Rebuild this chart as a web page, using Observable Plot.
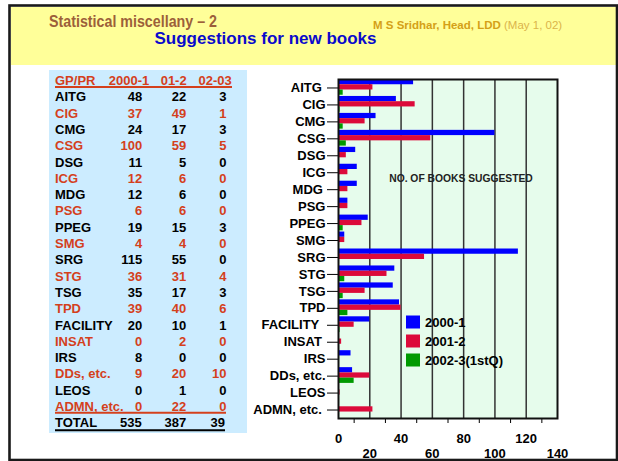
<!DOCTYPE html>
<html><head><meta charset="utf-8">
<script src="https://cdn.jsdelivr.net/npm/d3@7"></script>
<script src="https://cdn.jsdelivr.net/npm/@observablehq/plot@0.6"></script>
<style>
html,body{margin:0;padding:0;background:#fff;}
#page{position:relative;width:618px;height:461px;overflow:hidden;font-family:"Liberation Sans",Arial,sans-serif;}
#bg{position:absolute;left:0;top:0;}
#chart{position:absolute;left:240px;top:70px;}
#legend{position:absolute;left:0;top:0;pointer-events:none;}
</style></head>
<body>
<div id="page">
  <svg id="bg" width="618" height="461"></svg>
  <div id="chart"></div>
  <svg id="legend" width="618" height="461"></svg>
</div>
<script>
// ---- data ----
const categories = ["AITG","CIG","CMG","CSG","DSG","ICG","MDG","PSG","PPEG","SMG","SRG","STG","TSG","TPD","FACILITY","INSAT","IRS","DDs, etc.","LEOS","ADMN, etc."];
const yTickLabels = ["AITG\u00a0","CIG","CMG","CSG","DSG","ICG","MDG\u2009","PSG","PPEG","SMG","SRG","STG","TSG","TPD","FACILITY\u00a0\u2009","INSAT\u00a0","IRS","DDs, etc.","LEOS","ADMN, etc.\u00a0"];
const values2000_1 = [48,37,24,100,11,12,12,6,19,4,115,36,35,39,20,0,8,9,0,0];
const values2001_2 = [22,49,17,59,5,6,6,6,15,4,55,31,17,40,10,2,0,20,1,22];
const values2002_3 = [3,1,3,5,0,0,0,0,3,0,0,4,3,6,1,0,0,10,0,0];
const seriesNames = ["2000-1","2001-2","2002-3(1stQ)"];
const seriesColors = ["#0000ff","#dc0a3a","#009a00"];
const tableHeads = ["GP/PR","2000-1","01-2","02-03"];
const totalLabel = "TOTAL";
const xGridValues = [20,40,60,80,100,120];
const xMinorTicks = [10,30,50,70,90,110,130];
const xLabelsRow1 = [0,40,80,120];
const xLabelsRow2 = [20,60,100,140];
const axisTitle = "NO. OF BOOKS SUGGESTED";
const title1 = "Statistical miscellany \u2013 2";
const author = "M S Sridhar, Head, LDD";
const dateText = "(May 1, 02)";
const title2 = "Suggestions for new books";

const FONT = '"Liberation Sans", Arial, sans-serif';
const RED = "#d4401c";

// ---- background, header, table ----
const bg = d3.select("#bg");
bg.append("rect").attr("x",11).attr("y",7).attr("width",605).attr("height",58).attr("fill","#ffff99");
bg.append("rect").attr("x",49).attr("y",70).attr("width",198).attr("height",363).attr("fill","#ccecff");
bg.append("rect").attr("x",9.5).attr("y",5.5).attr("width",607.5).attr("height",454.5)
  .attr("fill","none").attr("stroke","#1a1a1a").attr("stroke-width",2.6);

bg.append("text").attr("x",49).attr("y",27.3).attr("font-family",FONT).attr("font-weight","bold")
  .attr("font-size",16.5).attr("fill","#9c5f3a").attr("textLength",168).attr("lengthAdjust","spacingAndGlyphs").text(title1);
const au = bg.append("text").attr("x",373).attr("y",28.7).attr("font-family",FONT).attr("font-size",11.5);
au.append("tspan").attr("font-weight","bold").attr("fill","#d4a017").text(author);
au.append("tspan").attr("font-weight","normal").attr("fill","#dbb44a").text(" " + dateText);
bg.append("text").attr("x",265.5).attr("y",44).attr("text-anchor","middle").attr("font-family",FONT)
  .attr("font-weight","bold").attr("font-size",17).attr("fill","#0a0acc").text(title2);

// table
const rowH = 16.3, base0 = 85.05;
const headX = [55, 149.3, 186.7, 231.7];
const colX = [55, 142.3, 186.3, 226.5];
const tbl = bg.append("g").attr("font-family",FONT).attr("font-weight","bold").attr("font-size",13);
tableHeads.forEach((h,j)=>{
  tbl.append("text").attr("x",headX[j]).attr("y",base0).attr("text-anchor", j===0?"start":"end").attr("fill",RED).text(h);
});
categories.forEach((c,i)=>{
  const col = i%2===0 ? "#000" : RED;
  const y = base0 + (i+1)*rowH;
  const vals = [c, values2000_1[i], values2001_2[i], values2002_3[i]];
  vals.forEach((v,j)=>{
    tbl.append("text").attr("x",colX[j]).attr("y",y).attr("text-anchor", j===0?"start":"end").attr("fill",col).text(v);
  });
});
const totals = [totalLabel, d3.sum(values2000_1), d3.sum(values2001_2), d3.sum(values2002_3)];
const yT = base0 + (categories.length+1)*rowH;
const totX = [55, 141.7, 186.3, 225];
totals.forEach((v,j)=>{
  tbl.append("text").attr("x",totX[j]).attr("y",yT).attr("text-anchor", j===0?"start":"end").attr("fill","#000").text(v);
});
bg.append("line").attr("x1",55).attr("x2",232).attr("y1",86.9).attr("y2",86.9).attr("stroke",RED).attr("stroke-width",2);
bg.append("line").attr("x1",55).attr("x2",226).attr("y1",412.8).attr("y2",412.8).attr("stroke",RED).attr("stroke-width",2);
bg.append("line").attr("x1",55).attr("x2",225).attr("y1",430.2).attr("y2",430.2).attr("stroke","#000").attr("stroke-width",2);

// ---- chart ----
const rows = categories.map((c,i)=>({cat:c, a:values2000_1[i], b:values2001_2[i], c2:values2002_3[i]}));
const frameH = 339, bw = frameH/categories.length, barH = 5.25;
const chart = Plot.plot({
  width: 360, height: 388,
  marginLeft: 98, marginRight: 43, marginTop: 9, marginBottom: 40,
  x: {domain:[0,140], ticks: xMinorTicks, tickSize: 5, tickFormat: () => "", label: null},
  y: {type:"band", domain: categories, padding: 0, round: false, tickSize: 11, tickPadding: 2,
      tickFormat: d => yTickLabels[categories.indexOf(d)], label: null},
  style: {background:"transparent", fontFamily: FONT, fontSize:"13px", fontWeight:"bold", color:"#000", overflow:"visible"},
  marks: [
    Plot.frame({fill:"#e6fcec", stroke:"none"}),
    Plot.ruleX(xGridValues, {stroke:"#333", strokeWidth:1.5}),
    Plot.barX(rows, {x:"a", y:"cat", fill:seriesColors[0], insetTop:0, insetBottom: bw - barH}),
    Plot.barX(rows, {x:"b", y:"cat", fill:seriesColors[1], insetTop:barH, insetBottom: bw - 2*barH}),
    Plot.barX(rows, {x:"c2", y:"cat", fill:seriesColors[2], insetTop:2*barH, insetBottom: bw - 3*barH}),
    Plot.frame({stroke:"#111", strokeWidth:2}),
    Plot.text([axisTitle], {frameAnchor:"top", dx:13, dy:99, lineAnchor:"middle", fontSize:10.3, fill:"#222"}),
    Plot.text(xLabelsRow1, {x: d=>d, text: d=>String(d), frameAnchor:"bottom", dy:20, lineAnchor:"middle"}),
    Plot.text(xLabelsRow2, {x: d=>d, text: d=>String(d), frameAnchor:"bottom", dy:35, lineAnchor:"middle"})
  ]
});
document.getElementById("chart").appendChild(chart);

// ---- legend ----
const lg = d3.select("#legend").append("g").attr("font-family",FONT).attr("font-weight","bold").attr("font-size",13);
const legCenters = [322, 341, 360];
seriesNames.forEach((s,i)=>{
  lg.append("rect").attr("x",406).attr("y",legCenters[i]-6.5).attr("width",14).attr("height",13).attr("fill",seriesColors[i]);
  lg.append("text").attr("x",425).attr("y",legCenters[i]+4.65).attr("fill","#000").text(s);
});
</script>
</body></html>
